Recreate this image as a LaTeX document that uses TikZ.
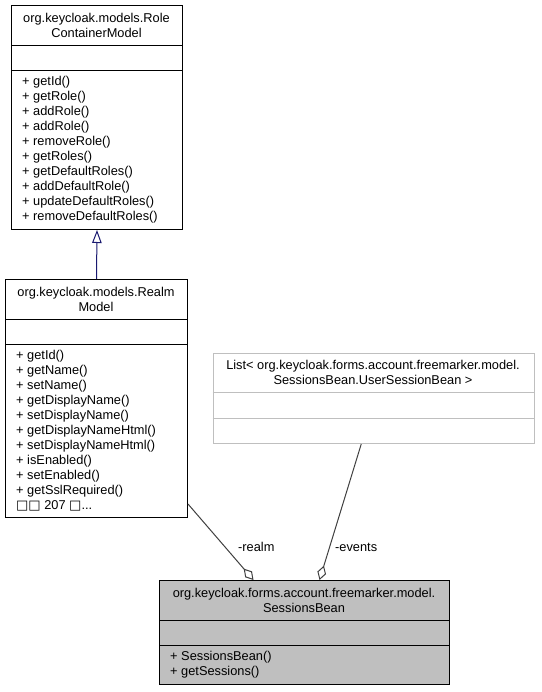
\documentclass[tikz,border=0pt]{standalone}
\usepackage{fontspec}
\setmainfont{Liberation Sans}
\newfontfamily\glyphfont{DejaVu Sans}
\usetikzlibrary{arrows.meta,calc}

\definecolor{inheritblue}{HTML}{191970}
\definecolor{membergray}{HTML}{404040}
\definecolor{boxgray}{HTML}{BFBFBF}

\tikzset{
    class box/.style={
        draw=black,line width=1pt,fill=white,
        anchor=north west,inner sep=0pt
    },
    class line/.style={draw=black,line width=1pt},
    class text/.style={
        inner sep=0pt,align=center,
        font=\fontsize{12.8}{15}\selectfont
    },
    member list/.style={
        class text,align=left,anchor=west
    },
    inherit edge/.style={
        draw=inheritblue,line width=1pt,
        -{Triangle[open,length=13pt,width=9.5pt]}
    },
    member edge/.style={
        draw=membergray,line width=1pt,
        -{Diamond[open,length=15pt,width=9pt]}
    }
}

\begin{document}
\begin{tikzpicture}[x=1pt,y=-1pt]
        \fill[white] (0,0) rectangle (541,692);
        \useasboundingbox (0,0) rectangle (541,692);
        % base class
        \node[class box,minimum width=171pt,minimum height=224pt] (role) at (11,5) {};
        \draw[class line] (11,46) -- (182,46) (11,71) -- (182,71);
        \node[class text] (roletitle) at (96.5,25.5) {org.keycloak.models.Role\\ContainerModel};
        \node[member list] (rolemethods) at (22,150) {+ getId()\\+ getRole()\\+ addRole()\\+ addRole()\\+ removeRole()\\+ getRoles()\\+ getDefaultRoles()\\+ addDefaultRole()\\+ updateDefaultRoles()\\+ removeDefaultRoles()};
        % realm
        \node[class box,minimum width=182pt,minimum height=238pt] (realm) at (5,279) {};
        \draw[class line] (5,319) -- (187,319) (5,344) -- (187,344);
        \node[class text] (realmtitle) at (96,299) {org.keycloak.models.Realm\\Model};
        \node[member list] (realmmethods) at (16,430.5) {+ getId()\\+ getName()\\+ setName()\\+ getDisplayName()\\+ setDisplayName()\\+ getDisplayNameHtml()\\+ setDisplayNameHtml()\\+ isEnabled()\\+ setEnabled()\\+ getSslRequired()\\{\glyphfont\fontsize{13}{15}\selectfont □□} 207 {\glyphfont\fontsize{13}{15}\selectfont □}...};
        % template instance
        \node[class box,draw=boxgray,minimum width=321.5pt,minimum height=90.5pt] (list) at (212.5,352.5) {};
        \draw[class line,draw=boxgray] (212.5,392) -- (534,392) (212.5,418) -- (534,418);
        \node[class text] (listtitle) at (373,372) {List< org.keycloak.forms.account.freemarker.model.\\SessionsBean.UserSessionBean >};
        % the bean itself
        \node[class box,fill=boxgray,minimum width=290pt,minimum height=104pt] (sess) at (159,580) {};
        \draw[class line] (159,620) -- (449,620) (159,645) -- (449,645);
        \node[class text] (sesstitle) at (304,600) {org.keycloak.forms.account.freemarker.model.\\SessionsBean};
        \node[member list] (sessmethods) at (170,665) {+ SessionsBean()\\+ getSessions()};
        % relations
        \draw[inherit edge] (realm.north) -- (role.south);
        \draw[member edge] ([yshift=14pt]realm.south east) -- ([xshift=-51pt]sess.north);
        \draw[member edge] ([xshift=-12.5pt]list.south) -- ([xshift=15pt]sess.north);
        \node[class text,anchor=west] (realmlabel) at (238,547) {-realm};
        \node[class text,anchor=west] (eventslabel) at (335,547) {-events};
\end{tikzpicture}
\end{document}
